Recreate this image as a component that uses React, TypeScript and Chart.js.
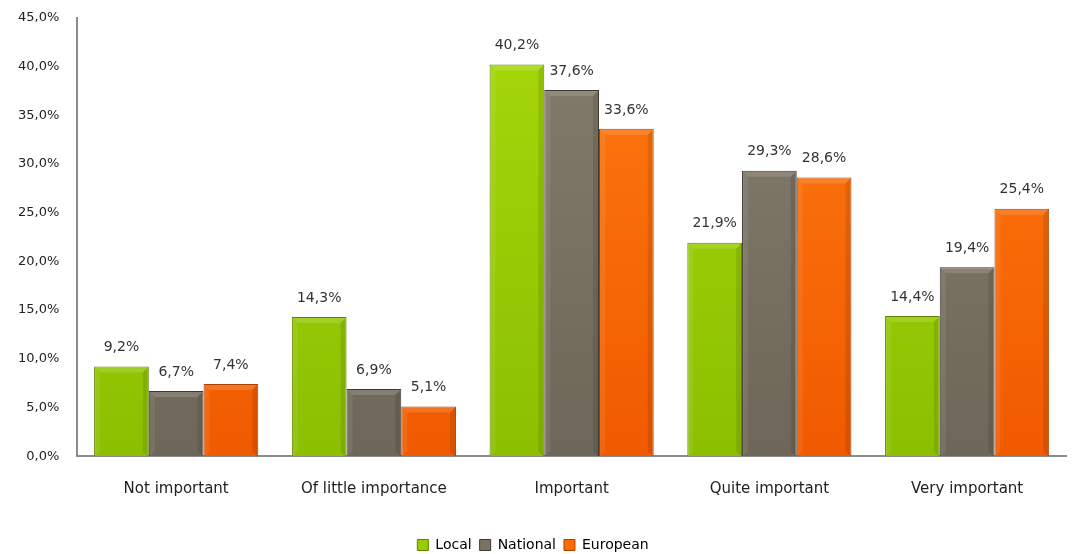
import React, { useEffect, useRef } from "react";
import { Chart, registerables } from "chart.js";

Chart.register(...registerables);

const categories = ["Not important", "Of little importance", "Important", "Quite important", "Very important"];
const localValues = [9.2, 14.3, 40.2, 21.9, 14.4];
const nationalValues = [6.7, 6.9, 37.6, 29.3, 19.4];
const europeanValues = [7.4, 5.1, 33.6, 28.6, 25.4];
const seriesNames = ["Local", "National", "European"];

const FONT = "'DejaVu Sans', sans-serif";

const palettes = [
  { top: "#a6d80a", bottom: "#8cbf00", border: "#5f8200", solid: "#99cc00" },
  { top: "#847c6c", bottom: "#6e6658", border: "#3f3a31", solid: "#7a7262" },
  { top: "#ff7a10", bottom: "#f05a00", border: "#a84000", solid: "#ff6a00" },
];

const fmt = (v: number) => v.toFixed(1).replace(".", ",") + "%";

const labelPlugin = {
  id: "valueLabels",
  afterDatasetsDraw(chart: any) {
    const ctx = chart.ctx;
    ctx.save();
    ctx.font = `14px ${FONT}`;
    ctx.fillStyle = "#333";
    ctx.textAlign = "center";
    ctx.textBaseline = "bottom";
    chart.data.datasets.forEach((ds: any, i: number) => {
      const meta = chart.getDatasetMeta(i);
      meta.data.forEach((bar: any, j: number) => {
        ctx.fillText(fmt(ds.data[j]), bar.x, bar.y - 12);
      });
    });
    ctx.restore();
  },
};

const bevelPlugin = {
  id: "bevel",
  afterDatasetsDraw(chart: any) {
    const ctx = chart.ctx;
    ctx.save();
    chart.data.datasets.forEach((_ds: any, i: number) => {
      const meta = chart.getDatasetMeta(i);
      meta.data.forEach((bar: any) => {
        const w = bar.width;
        const x0 = bar.x - w / 2;
        const y0 = bar.y;
        const y1 = bar.base;
        const b = 5;
        if (y1 - y0 < 2 * b) return;
        ctx.fillStyle = "rgba(255,255,255,0.14)";
        ctx.beginPath();
        ctx.moveTo(x0 + 1, y0 + 1);
        ctx.lineTo(x0 + w - 1, y0 + 1);
        ctx.lineTo(x0 + w - 1 - b, y0 + 1 + b);
        ctx.lineTo(x0 + 1 + b, y0 + 1 + b);
        ctx.closePath();
        ctx.fill();
        ctx.fillStyle = "rgba(255,255,255,0.08)";
        ctx.beginPath();
        ctx.moveTo(x0 + 1, y0 + 1);
        ctx.lineTo(x0 + 1 + b, y0 + 1 + b);
        ctx.lineTo(x0 + 1 + b, y1 - b);
        ctx.lineTo(x0 + 1, y1);
        ctx.closePath();
        ctx.fill();
        ctx.fillStyle = "rgba(0,0,0,0.10)";
        ctx.beginPath();
        ctx.moveTo(x0 + w - 1, y0 + 1);
        ctx.lineTo(x0 + w - 1 - b, y0 + 1 + b);
        ctx.lineTo(x0 + w - 1 - b, y1 - b);
        ctx.lineTo(x0 + w - 1, y1);
        ctx.closePath();
        ctx.fill();
      });
    });
    ctx.restore();
  },
};

export default function App() {
  const ref = useRef<HTMLCanvasElement>(null);
  useEffect(() => {
    if (!ref.current) return;
    const values = [localValues, nationalValues, europeanValues];
    const chart = new Chart(ref.current, {
      type: "bar",
      data: {
        labels: categories,
        datasets: values.map((vals, i) => ({
          label: seriesNames[i],
          data: vals,
          backgroundColor: (c: any) => {
            const area = c.chart.chartArea;
            if (!area) return palettes[i].solid;
            const g = c.chart.ctx.createLinearGradient(0, area.top, 0, area.bottom);
            g.addColorStop(0, palettes[i].top);
            g.addColorStop(1, palettes[i].bottom);
            return g;
          },
          borderColor: palettes[i].border,
          borderWidth: 1,
          barPercentage: 1,
          categoryPercentage: 0.83,
        })),
      },
      options: {
        responsive: true,
        maintainAspectRatio: false,
        animation: false,
        layout: { padding: { top: -4, right: 10, left: 0, bottom: -8 } },
        plugins: {
          legend: {
            position: "bottom",
            labels: {
              boxWidth: 11,
              boxHeight: 11,
              padding: 8,
              color: "#222",
              font: { family: FONT, size: 14 },
              generateLabels: () =>
                seriesNames.map((n, i) => ({
                  text: n,
                  fillStyle: palettes[i].solid,
                  strokeStyle: palettes[i].border,
                  lineWidth: 1,
                  datasetIndex: i,
                  hidden: false,
                })),
            },
          },
          tooltip: { enabled: false },
        },
        scales: {
          x: {
            grid: { display: false, drawTicks: false },
            border: { display: true, color: "#8c8c8c", width: 2 },
            ticks: { color: "#222", font: { family: FONT, size: 15 }, padding: 24 },
            title: { display: true, text: " ", font: { size: 4 }, padding: { top: 2, bottom: 1 } },
          },
          y: {
            min: 0,
            max: 45,
            grid: { display: false, drawTicks: false },
            border: { display: true, color: "#8c8c8c", width: 2 },
            ticks: {
              stepSize: 5,
              color: "#222",
              padding: 18,
              font: { family: FONT, size: 13 },
              callback: (v: any) => fmt(Number(v)),
            },
          },
        },
      },
      plugins: [bevelPlugin, labelPlugin],
    } as any);
    return () => chart.destroy();
  }, []);
  return (
    <div style={{ position: "fixed", left: 0, top: -8, width: 1076, height: 562, background: "#fff" }}>
      <canvas ref={ref} />
    </div>
  );
}
